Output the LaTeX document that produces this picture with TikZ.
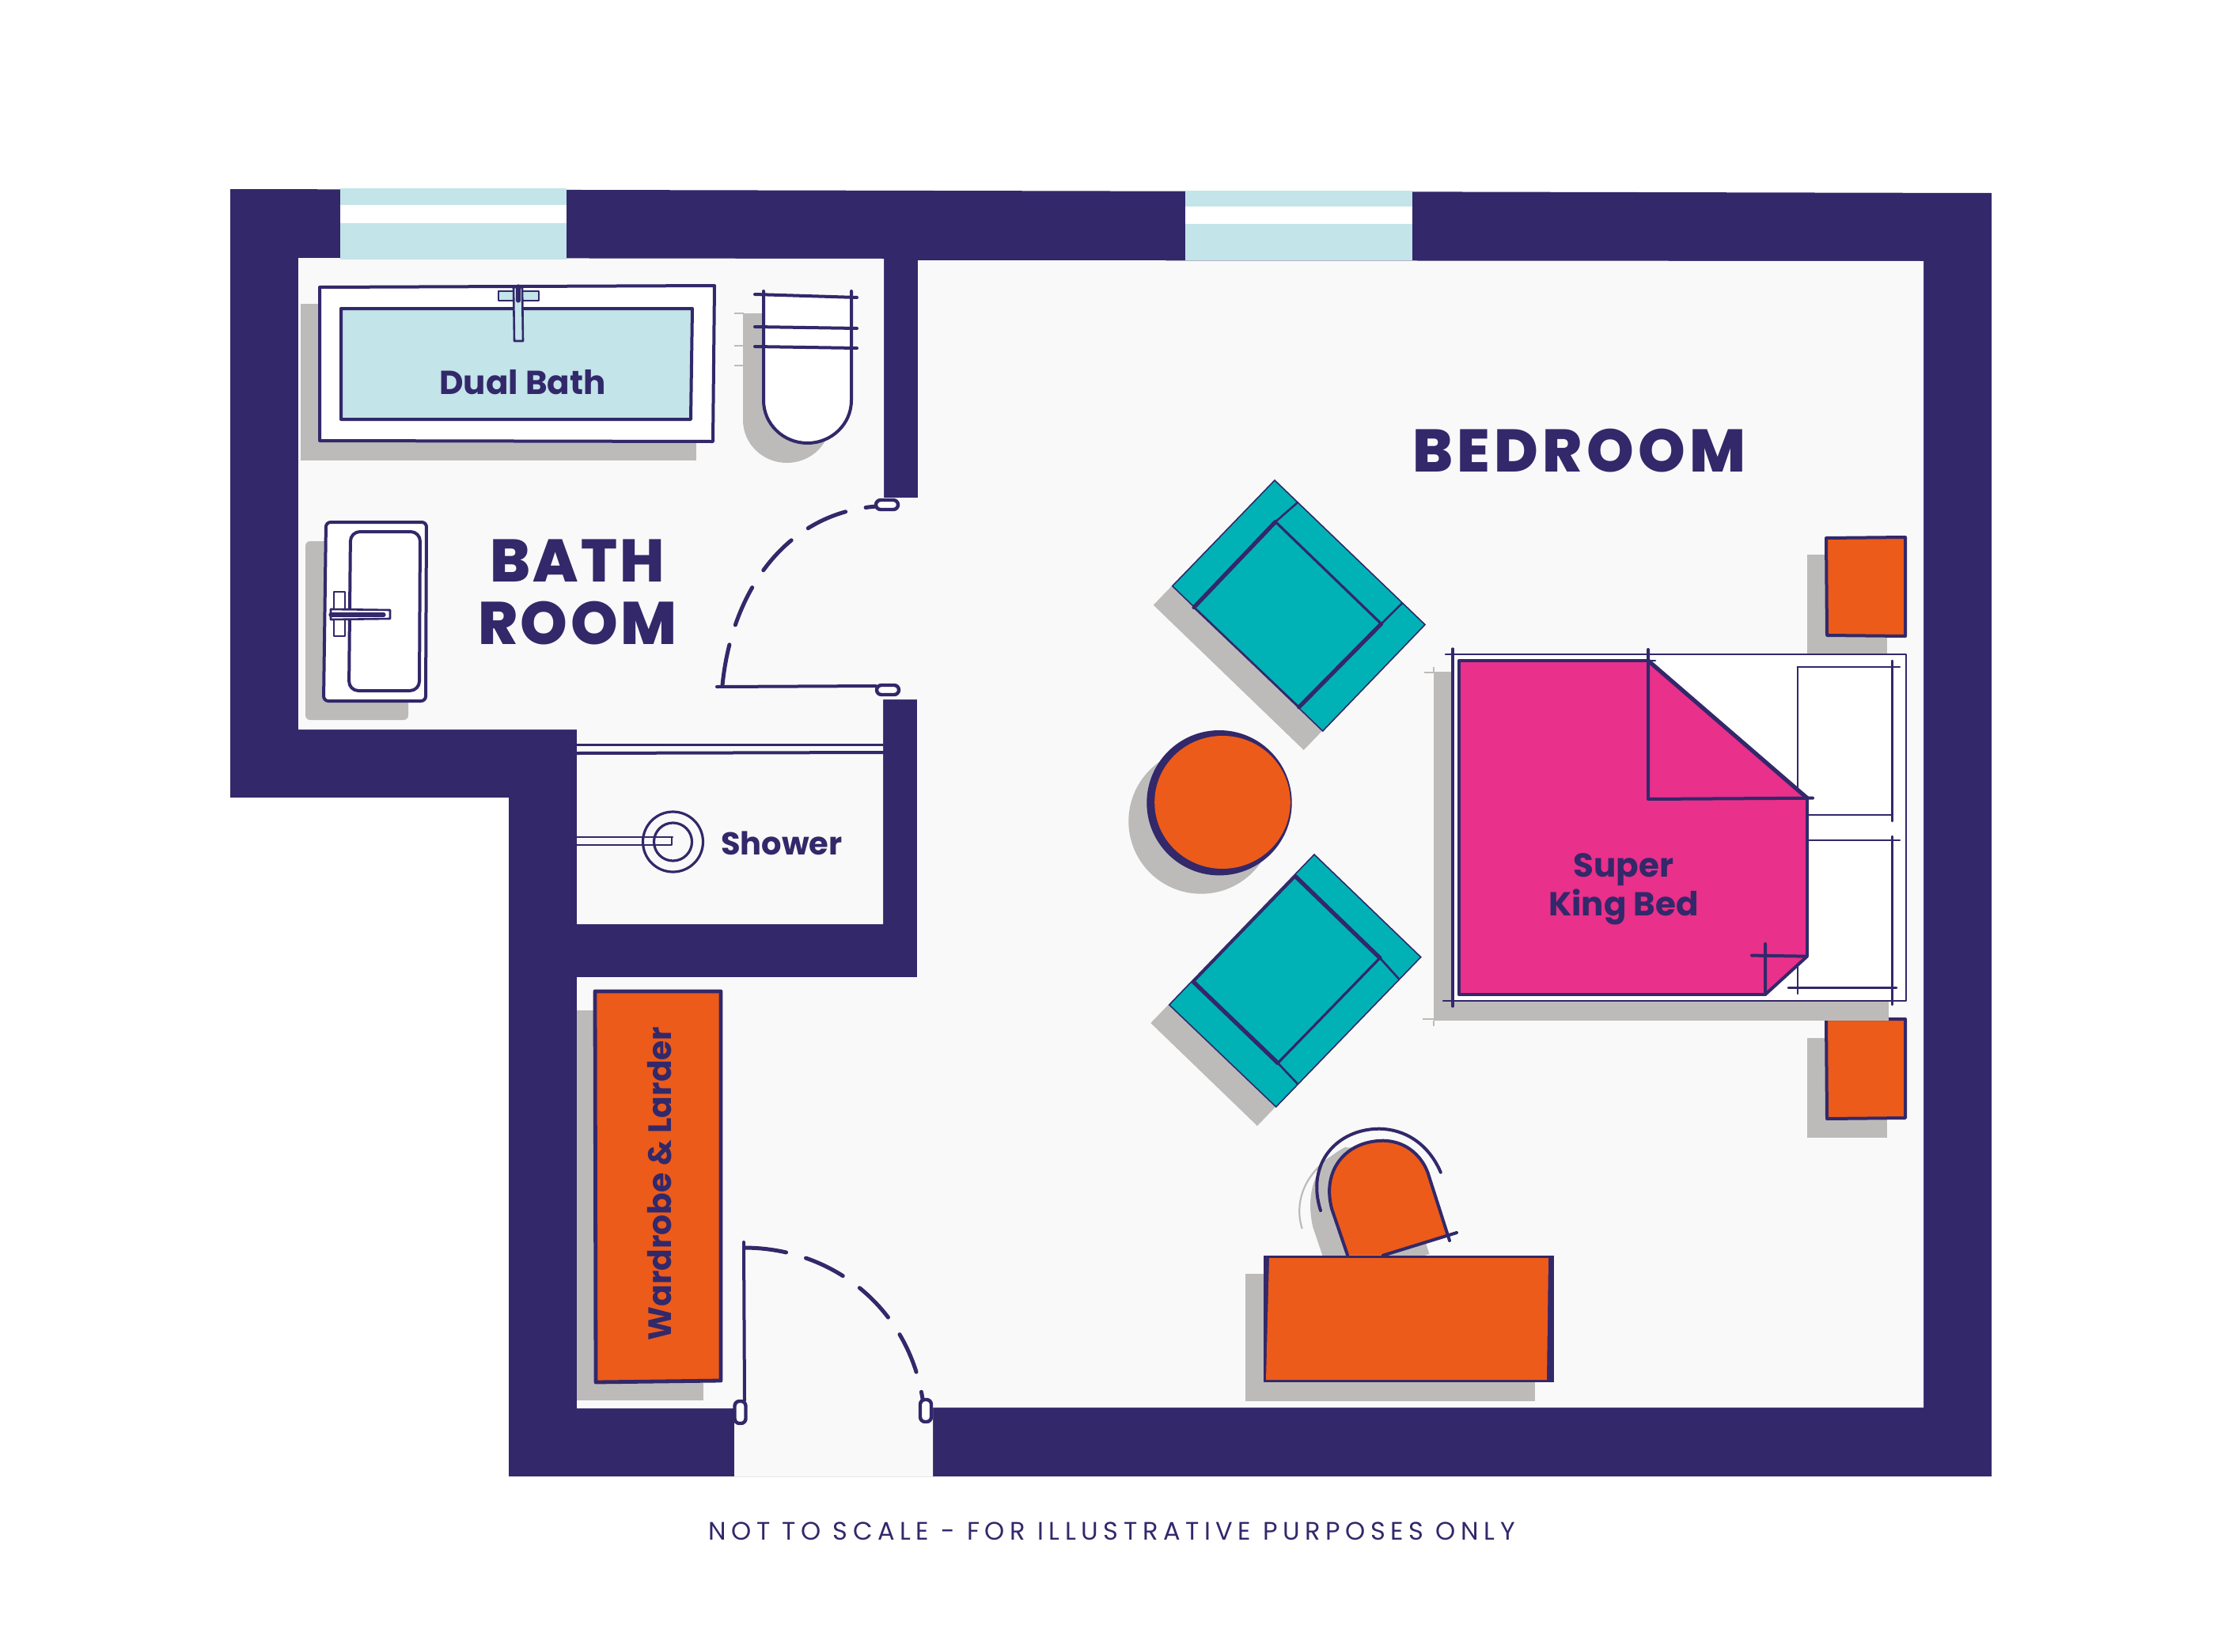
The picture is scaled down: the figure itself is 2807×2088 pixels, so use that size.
\documentclass[tikz,border=0pt]{standalone}
\usepackage{fontspec}
\setmainfont{Poppins}
\newfontfamily\ticker[LetterSpace=20.6]{Poppins}
\newfontfamily\heavy[LetterSpace=4.5]{Poppins ExtraBold}
\newfontfamily\heavywide[LetterSpace=7]{Poppins ExtraBold}
\definecolor{navy}{HTML}{32286A}
\definecolor{floorc}{HTML}{F9F9F9}
\definecolor{winc}{HTML}{C3E4E9}
\definecolor{shad}{HTML}{BCBBBA}
\definecolor{teal1}{HTML}{00B2B6}
\definecolor{orng}{HTML}{EC5B1A}
\definecolor{pinkc}{HTML}{E9308A}
\tikzset{
  ln/.style={draw=navy,line width=2pt,line cap=round,line join=round},
  thinln/.style={draw=navy,line width=1.3pt,line cap=round,line join=round},
  thickln/.style={draw=navy,line width=2.6pt,line cap=round,line join=round},
  shadow/.style={fill=shad,draw=none},
  swing/.style={draw=navy,line width=2.5pt,line cap=round,dash pattern=on 26pt off 13pt},
  hinge/.style={draw=navy,fill=white,line width=2.2pt,rounded corners=3pt},
  lab/.style={text=navy,font=\fontsize{21}{24}\selectfont\bfseries,inner sep=0pt,align=center},
  big/.style={text=navy,font=\fontsize{38}{39.5}\selectfont\heavy,inner sep=0pt,align=center},
}
\begin{document}
\begin{tikzpicture}[x=0.5pt,y=-0.5pt]
\useasboundingbox (0,0) rectangle (2807,2088);
\fill[white] (0,0) rectangle (2807,2088);
% walls
\fill[navy] (291,239) -- (2517,244) -- (2517,1866) -- (643,1866) -- (643,1008) -- (291,1008) -- cycle;
% floor
\fill[floorc] (377,326) -- (1117,327) -- (1117,629) -- (1160,629) -- (1160,329) -- (2431,330) -- (2431,1779) -- (1179,1779) -- (1179,1866) -- (928,1866) -- (928,1780) -- (729,1780) -- (729,1235) -- (1159,1235) -- (1159,884) -- (1116,884) -- (1116,1168) -- (729,1168) -- (729,922) -- (377,922) -- cycle;
% windows
\fill[winc] (430,238) rectangle (716,328);
\fill[white] (430,259) rectangle (716,282);
\fill[winc] (1498,241) rectangle (1785,329);
\fill[white] (1498,261) rectangle (1785,283);
% bath
\fill[shadow] (380,384) rectangle (880,582);
\fill[white] (404,363) rectangle (903,558);
\draw[ln] (404,363) -- (903,361) -- (901,558) -- (404,557) -- cycle;
\fill[winc] (431.5,391) rectangle (875,530);
\draw[ln] (431,390) -- (875,390) -- (873,530) -- (431,530) -- cycle;
\draw[thinln,fill=winc] (630,368) rectangle (681,380);
\draw[thinln,fill=winc] (649,363) -- (660,363) -- (661,431) -- (650,431) -- cycle;
\draw[thickln] (655,362) -- (655,380);
\node[lab] (dualbath) at (660.5,483) {Dual Bath};
% toilet
\path[shadow] (939,396) -- (1050,396) -- (1050,531) arc[x radius=55.5,y radius=54,start angle=0,end angle=180] -- cycle;
\draw[shad,line width=0.8pt] (928,396) -- (940,396) (928,437) -- (940,437) (928,462) -- (940,462);
\path[fill=white] (965,373) -- (1076,373) -- (1076,506) arc[x radius=55.5,y radius=54,start angle=0,end angle=180] -- cycle;
\draw[ln] (965,368) -- (965,506) arc[x radius=55.5,y radius=54,start angle=180,end angle=0] -- (1076,368);
\draw[ln] (954,372) -- (1083,376) (954,413) -- (1083,415) (954,438) -- (1083,440);
% sink
\fill[shadow,rounded corners=3pt] (386,684) rectangle (516,910);
\draw[ln,fill=white,rounded corners=3pt] (412,660) -- (539,660) -- (538,886) -- (409,886) -- cycle;
\draw[ln,rounded corners=6pt] (443,672) -- (531,672) -- (530,873) -- (441,873) -- cycle;
\draw[thinln,fill=white] (422,748) rectangle (436,804);
\draw[thinln,fill=white] (418,770) -- (493,771) -- (493,782) -- (418,783) -- cycle;
\draw[thickln] (418,777) -- (485,777);
% bath room label
\node[big,anchor=center] (bathroom) at (730,748) {BATH\\ROOM};
% bath door
\draw[ln] (906,868) -- (1107,867);
\draw[swing] (913,866) .. controls (925,745) and (995,648) .. (1108,640);
\node[hinge,minimum width=14pt,minimum height=6pt,inner sep=0pt] (h1) at (1121,638) {};
\node[hinge,minimum width=14pt,minimum height=6pt,inner sep=0pt] (h2) at (1122,872) {};
% shower
\draw[thinln] (729,941.5) -- (1116,941.5);
\draw[ln] (729,952) -- (1116,951);
\draw[thinln] (850,1058) -- (729,1058) (729,1068) -- (849,1068) -- (849,1058);
\draw[thinln,line width=1.6pt] (850.5,1064) circle[radius=38];
\draw[thinln,line width=1.6pt] (850.5,1064) circle[radius=24];
\node[lab,font=\fontsize{20}{24}\selectfont\bfseries,anchor=center] (shower) at (988,1066) {Shower};
% wardrobe
\fill[shadow] (729,1277) rectangle (889,1770);
\fill[orng] (751,1253) rectangle (911,1747);
\draw[ln,line width=2.4pt] (752,1253) -- (911,1253) -- (911,1745) -- (753,1747) -- cycle;
\node[lab,font=\fontsize{20.4}{24}\selectfont\bfseries,rotate=90,anchor=center] (wardrobe) at (834,1496) {Wardrobe \& Larder};
% entrance door
\draw[ln] (940,1570) -- (941,1770);
\draw[swing] (942,1577) .. controls (1055,1578) and (1148,1655) .. (1166,1768);
\node[hinge,minimum width=7pt,minimum height=14pt,inner sep=0pt] (h3) at (935.5,1785) {};
\node[hinge,minimum width=7pt,minimum height=14pt,inner sep=0pt] (h4) at (1170,1783) {};
% armchair 1
\fill[shadow] (1457.7,764.7) -- (1587,631) -- (1777,813.5) -- (1647.7,948) -- cycle;
\fill[teal1] (1611,607) -- (1801,789.5) -- (1671.7,924) -- (1481.7,740.7) -- cycle;
\draw[navy,line width=0.8pt] (1611,607) -- (1801,789.5) -- (1671.7,924) -- (1481.7,740.7) -- cycle;
\draw[thinln,line width=1.6pt] (1612,659.5) -- (1745.7,788.5);
\draw[thickln] (1509,767.6) -- (1612,659.5) (1641.7,893.8) -- (1745.7,788.5);
\draw[thinln] (1612,659.5) -- (1640,635) (1745.7,788.5) -- (1771.7,762.7);
\draw[thinln] (1509,767.6) -- (1641.7,893.8);
% armchair 2
\fill[shadow] (1454.3,1293) -- (1637,1104) -- (1771.7,1233) -- (1589,1423) -- cycle;
\fill[teal1] (1661,1080) -- (1795.7,1209.7) -- (1612.7,1399) -- (1477.7,1270) -- cycle;
\draw[navy,line width=0.8pt] (1661,1080) -- (1795.7,1209.7) -- (1612.7,1399) -- (1477.7,1270) -- cycle;
\draw[thinln] (1637.3,1107.7) -- (1508.3,1241);
\draw[thickln] (1508.3,1241) -- (1615,1343.6) (1637.3,1107.7) -- (1744,1210.8);
\draw[thinln,line width=1.6pt] (1744,1210.8) -- (1615,1343.6);
\draw[thinln] (1744,1210.8) -- (1767.7,1237) (1615,1343.6) -- (1640,1370);
% round table
\fill[shadow] (1518,1038) circle[radius=91.7];
\fill[navy] (1541,1014.7) circle[radius=91.7];
\fill[orng] (1545,1014) ellipse[x radius=85.8,y radius=84];
% nightstands
\fill[shadow] (2284,701) rectangle (2385,830);
\fill[shadow] (2284,1312) rectangle (2385,1438);
\fill[orng] (2308,679) rectangle (2408,804);
\draw[ln] (2308,680) -- (2408,679) -- (2408,804) -- (2309,803) -- cycle;
\fill[orng] (2308,1288) rectangle (2408,1414);
\draw[ln] (2308,1288) -- (2408,1288) -- (2408,1413) -- (2309,1414) -- cycle;
% bed
\fill[shadow] (1812,849) rectangle (2387,1290);
\draw[shad,line width=0.8pt] (1800,850) -- (1812,850) (1812,843) -- (1812,849) (1798,1288) -- (1812,1288) (1812,1290) -- (1812,1297);
\fill[white] (1836,827) rectangle (2409,1265);
\draw[thinln] (1827,827) -- (2409,827) -- (2409,1265) -- (1824,1265);
\draw[thickln,line width=1.6pt] (1836,820) -- (1836,1272);
\draw[thinln] (2271.8,843) -- (2401,843);
\draw[thinln] (2271.8,843) -- (2271.8,1010) (2391.6,835) -- (2391.6,1038) (2284,1030) -- (2391.6,1030);
\draw[thinln] (2284,1062) -- (2401,1062) (2391.6,1057) -- (2391.6,1270) (2260,1248.5) -- (2397,1248.5) (2271.8,1219) -- (2271.8,1256);
\fill[pinkc] (1844,835) -- (2083,835) -- (2284,1008.7) -- (2284,1208) -- (2231,1257) -- (1844,1257) -- cycle;
\draw[ln] (2083,835) -- (1844,835) -- (1844,1257) -- (2231,1257) (2284,1008) -- (2284,1208);
\draw[thickln] (2083,835) -- (2284,1008.7);
\draw[ln] (2083,821) -- (2083,1010) -- (2291,1008.7);
\draw[thinln] (2083,835) -- (2092,835);
\draw[ln] (2231,1193) -- (2231,1257) -- (2284,1208.7) -- (2214,1207.6);
\node[lab] (bedlabel) at (2052,1124) {Super\\[0.5pt]King Bed};
% desk chair
\path[shadow] (1679.2,1610) -- (1659.3,1551) .. controls (1650,1510) and (1660,1470) .. (1700,1450) .. controls (1740,1455) and (1770,1470) .. (1782,1510) -- (1806.5,1585) -- (1724,1610) -- cycle;
\draw[shad,line width=1.1pt] (1645.7,1553) .. controls (1632,1510) and (1660,1465) .. (1708,1451);
\draw[shad,line width=1pt] (1799,1594) -- (1818,1590);
\path[fill=orng] (1703.2,1586.7) -- (1683.3,1528.3) .. controls (1670,1480) and (1700,1442) .. (1748,1441.7) .. controls (1780,1442) and (1800,1465) .. (1806,1486.7) -- (1830.5,1561.7) -- (1748,1586.7) -- cycle;
\draw[ln] (1703.2,1586.7) -- (1683.3,1528.3) .. controls (1670,1480) and (1700,1442) .. (1748,1441.7) .. controls (1780,1442) and (1800,1465) .. (1806,1486.7) -- (1832,1568);
\draw[ln] (1748,1586.7) -- (1841,1558);
\draw[ln] (1669,1530) .. controls (1650,1470) and (1690,1427) .. (1743,1426.7) .. controls (1775,1427) and (1805,1445) .. (1820.8,1481.7);
% desk
\fill[shadow] (1574,1610) rectangle (1940,1771);
\fill[navy] (1597.3,1586.7) rectangle (1963.8,1747.3);
\fill[orng] (1604,1590) -- (1957,1590) -- (1955,1744) -- (1600,1744) -- cycle;
% labels
\node[big,font=\fontsize{38}{39.5}\selectfont\heavywide,anchor=center] (bedroom) at (1996,570) {BEDROOM};
\node[inner sep=0pt,text=navy,font=\fontsize{16}{18}\selectfont\ticker] (note) at (1405,1935) {NOT TO SCALE - FOR ILLUSTRATIVE PURPOSES ONLY};
\end{tikzpicture}
\end{document}
